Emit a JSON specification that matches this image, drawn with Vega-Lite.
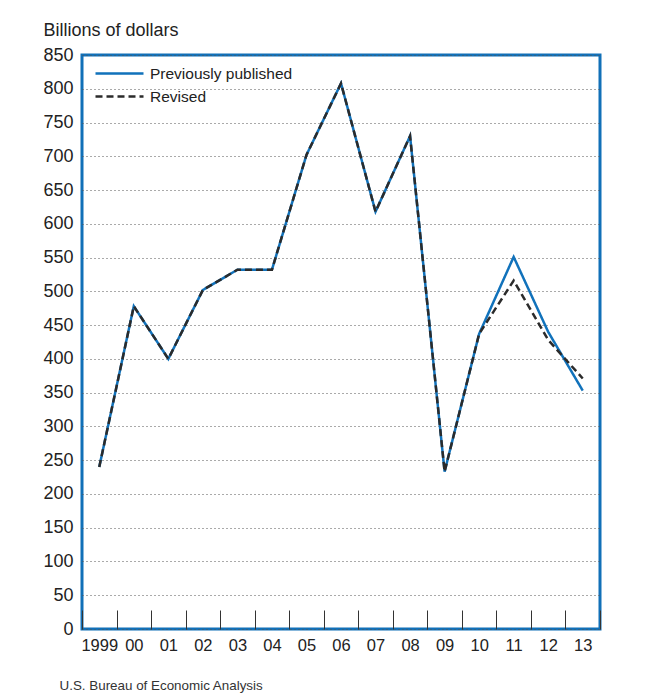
{
  "$schema": "https://vega.github.io/schema/vega-lite/v6.json",
  "width": 518,
  "height": 574,
  "autosize": "none",
  "padding": {"left": 82, "top": 55, "right": 51, "bottom": 65},
  "background": "white",
  "config": {
    "font": "Liberation Sans",
    "view": {"stroke": "#1170b8", "strokeWidth": 3}
  },
  "data": {
    "values": [
      {"year": 1999, "series": "Previously published", "value": 240},
      {"year": 2000, "series": "Previously published", "value": 478},
      {"year": 2001, "series": "Previously published", "value": 400},
      {"year": 2002, "series": "Previously published", "value": 502},
      {"year": 2003, "series": "Previously published", "value": 532},
      {"year": 2004, "series": "Previously published", "value": 532},
      {"year": 2005, "series": "Previously published", "value": 702},
      {"year": 2006, "series": "Previously published", "value": 808},
      {"year": 2007, "series": "Previously published", "value": 618},
      {"year": 2008, "series": "Previously published", "value": 730},
      {"year": 2009, "series": "Previously published", "value": 233},
      {"year": 2010, "series": "Previously published", "value": 437},
      {"year": 2011, "series": "Previously published", "value": 551},
      {"year": 2012, "series": "Previously published", "value": 440},
      {"year": 2013, "series": "Previously published", "value": 353},
      {"year": 1999, "series": "Revised", "value": 240},
      {"year": 2000, "series": "Revised", "value": 478},
      {"year": 2001, "series": "Revised", "value": 400},
      {"year": 2002, "series": "Revised", "value": 502},
      {"year": 2003, "series": "Revised", "value": 532},
      {"year": 2004, "series": "Revised", "value": 532},
      {"year": 2005, "series": "Revised", "value": 702},
      {"year": 2006, "series": "Revised", "value": 808},
      {"year": 2007, "series": "Revised", "value": 618},
      {"year": 2008, "series": "Revised", "value": 730},
      {"year": 2009, "series": "Revised", "value": 233},
      {"year": 2010, "series": "Revised", "value": 437},
      {"year": 2011, "series": "Revised", "value": 516},
      {"year": 2012, "series": "Revised", "value": 428},
      {"year": 2013, "series": "Revised", "value": 371}
    ]
  },
  "mark": {"type": "line", "strokeWidth": 2.5, "strokeJoin": "miter"},
  "encoding": {
    "x": {
      "field": "year",
      "type": "ordinal",
      "scale": {"type": "band", "paddingInner": 0, "paddingOuter": 0},
      "axis": {
        "title": "U.S. Bureau of Economic Analysis",
        "titleFontSize": 13.4,
        "titleFontWeight": "normal",
        "titleColor": "#333",
        "titleAlign": "left",
        "titleX": -23,
        "titleY": 60,
        "titleBaseline": "alphabetic",
        "labelExpr": "datum.label == '1999' ? '1999' : slice(datum.label, 2)",
        "labelFontSize": 16.5,
        "labelColor": "#222",
        "labelAngle": 0,
        "labelPadding": 27,
        "domain": false,
        "tickBand": "extent",
        "tickSize": -19,
        "tickColor": "#333",
        "tickWidth": 1
      }
    },
    "y": {
      "field": "value",
      "type": "quantitative",
      "scale": {"domain": [0, 850], "nice": false},
      "axis": {
        "values": [0, 50, 100, 150, 200, 250, 300, 350, 400, 450, 500, 550, 600, 650, 700, 750, 800, 850],
        "title": "Billions of dollars",
        "titleAngle": 0,
        "titleAlign": "left",
        "titleBaseline": "alphabetic",
        "titleX": -39,
        "titleY": -20,
        "titleFontSize": 18,
        "titleFontWeight": "normal",
        "titleColor": "#222",
        "labelFontSize": 18,
        "labelColor": "#222",
        "labelPadding": 9,
        "ticks": false,
        "domain": false,
        "grid": true,
        "gridDash": [1, 3],
        "gridColor": "#555",
        "gridWidth": 1
      }
    },
    "color": {
      "field": "series",
      "type": "nominal",
      "scale": {"domain": ["Previously published", "Revised"], "range": ["#1172bb", "#2b2b2b"]},
      "legend": {
        "title": null,
        "orient": "none",
        "legendX": 28,
        "legendY": 9,
        "symbolType": "M-3,0H3",
        "symbolSize": 256,
        "symbolStrokeWidth": 2.5,
        "rowPadding": 5,
        "labelFontSize": 15.5,
        "labelColor": "#222",
        "labelOffset": 21
      }
    },
    "strokeDash": {
      "field": "series",
      "type": "nominal",
      "scale": {"domain": ["Previously published", "Revised"], "range": [[1, 0], [7, 4]]},
      "legend": {
        "title": null,
        "orient": "none",
        "legendX": 28,
        "legendY": 9,
        "symbolType": "M-3,0H3",
        "symbolSize": 256,
        "symbolStrokeWidth": 2.5,
        "rowPadding": 5,
        "labelFontSize": 15.5,
        "labelColor": "#222",
        "labelOffset": 21
      }
    }
  }
}
